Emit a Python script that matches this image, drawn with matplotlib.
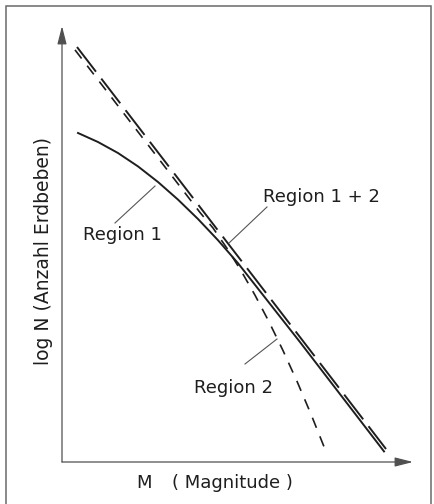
import matplotlib
matplotlib.use("Agg")
import matplotlib.pyplot as plt
from matplotlib.patches import Rectangle

# ---- data (arbitrary units: M on 0..10, log N on 0..10) ----
m_combined = [0.427, 9.231]
logn_combined = [9.518, 0.298]

m_region1 = [0.456, 1.026, 1.595, 2.165, 2.735, 3.305, 3.875, 4.444, 5.014, 6.781, 9.174]
logn_region1 = [7.546, 7.339, 7.087, 6.780, 6.422, 6.018, 5.573, 5.087, 4.560, 2.750, 0.243]

m_region2 = [0.370, 1.652, 2.792, 3.932, 4.302, 4.701, 5.100, 5.499, 5.897, 6.296, 6.695, 7.094, 7.493]
logn_region2 = [9.452, 8.109, 6.916, 5.722, 5.367, 4.901, 4.388, 3.826, 3.216, 2.557, 1.851, 1.096, 0.294]

labels = ["Region 1", "Region 1 + 2", "Region 2"]
label_pos = [(1.724, 5.206), (7.393, 6.078), (4.872, 1.697)]
leaders = [((1.510, 5.482), (2.650, 6.330)),
           ((5.840, 5.849), (4.758, 5.023)),
           ((5.214, 2.248), (6.125, 2.821))]

xlabel_m = "M"
xlabel_rest = "( Magnitude )"
ylabel = "log N (Anzahl Erdbeben)"

W, H = 434, 504
fig = plt.figure(figsize=(W / 100, H / 100), dpi=100)
fig.patch.set_facecolor("white")

# outer frame
fig.patches.append(Rectangle((6 / W, -0.05), (431 - 6) / W, 1.05 - 6 / H,
                             transform=fig.transFigure, fill=False,
                             edgecolor="#6a6a6a", lw=1.1))

x0, y0, x1, y1 = 62, 462, 413, 26
ax = fig.add_axes([x0 / W, (H - y0) / H, (x1 - x0) / W, (y0 - y1) / H])
ax.set_xlim(0, 10)
ax.set_ylim(0, 10)
ax.axis("off")

ink = "#1e1e1e"
# axes arrows
arrow = dict(arrowstyle="-|>,head_length=1.1,head_width=0.28", lw=0.9,
             color="#505050", shrinkA=0, shrinkB=0, mutation_scale=10)
ax.annotate("", xy=(10, 0), xytext=(0, 0), arrowprops=arrow, annotation_clip=False)
ax.annotate("", xy=(0, 10), xytext=(0, 0), arrowprops=arrow, annotation_clip=False)

# curves
ax.plot(m_combined, logn_combined, color=ink, lw=1.4, dashes=(16, 4.5),
        solid_capstyle="butt", dash_capstyle="butt", clip_on=False)
ax.plot(m_region1, logn_region1, color=ink, lw=1.4, clip_on=False)
ax.plot(m_region2, logn_region2, color=ink, lw=1.2, dashes=(6.5, 5.5),
        dash_capstyle="butt", clip_on=False)

# labels and leader lines
for (lx, ly), txt in zip(label_pos, labels):
    ax.text(lx, ly, txt, ha="center", va="center", fontsize=13, color=ink,
            family="DejaVu Sans")
for (a, b) in leaders:
    ax.plot([a[0], b[0]], [a[1], b[1]], color="#555555", lw=0.8)

ax.text(2.350, -0.482, xlabel_m, ha="center", va="center", fontsize=13,
        color=ink, clip_on=False)
ax.text(4.857, -0.482, xlabel_rest, ha="center", va="center", fontsize=13,
        color=ink, clip_on=False)
ax.text(-0.541, 4.839, ylabel, ha="center", va="center", rotation=90,
        fontsize=13.5, color=ink, clip_on=False)

fig.savefig("out.png", dpi=100, facecolor="white")
